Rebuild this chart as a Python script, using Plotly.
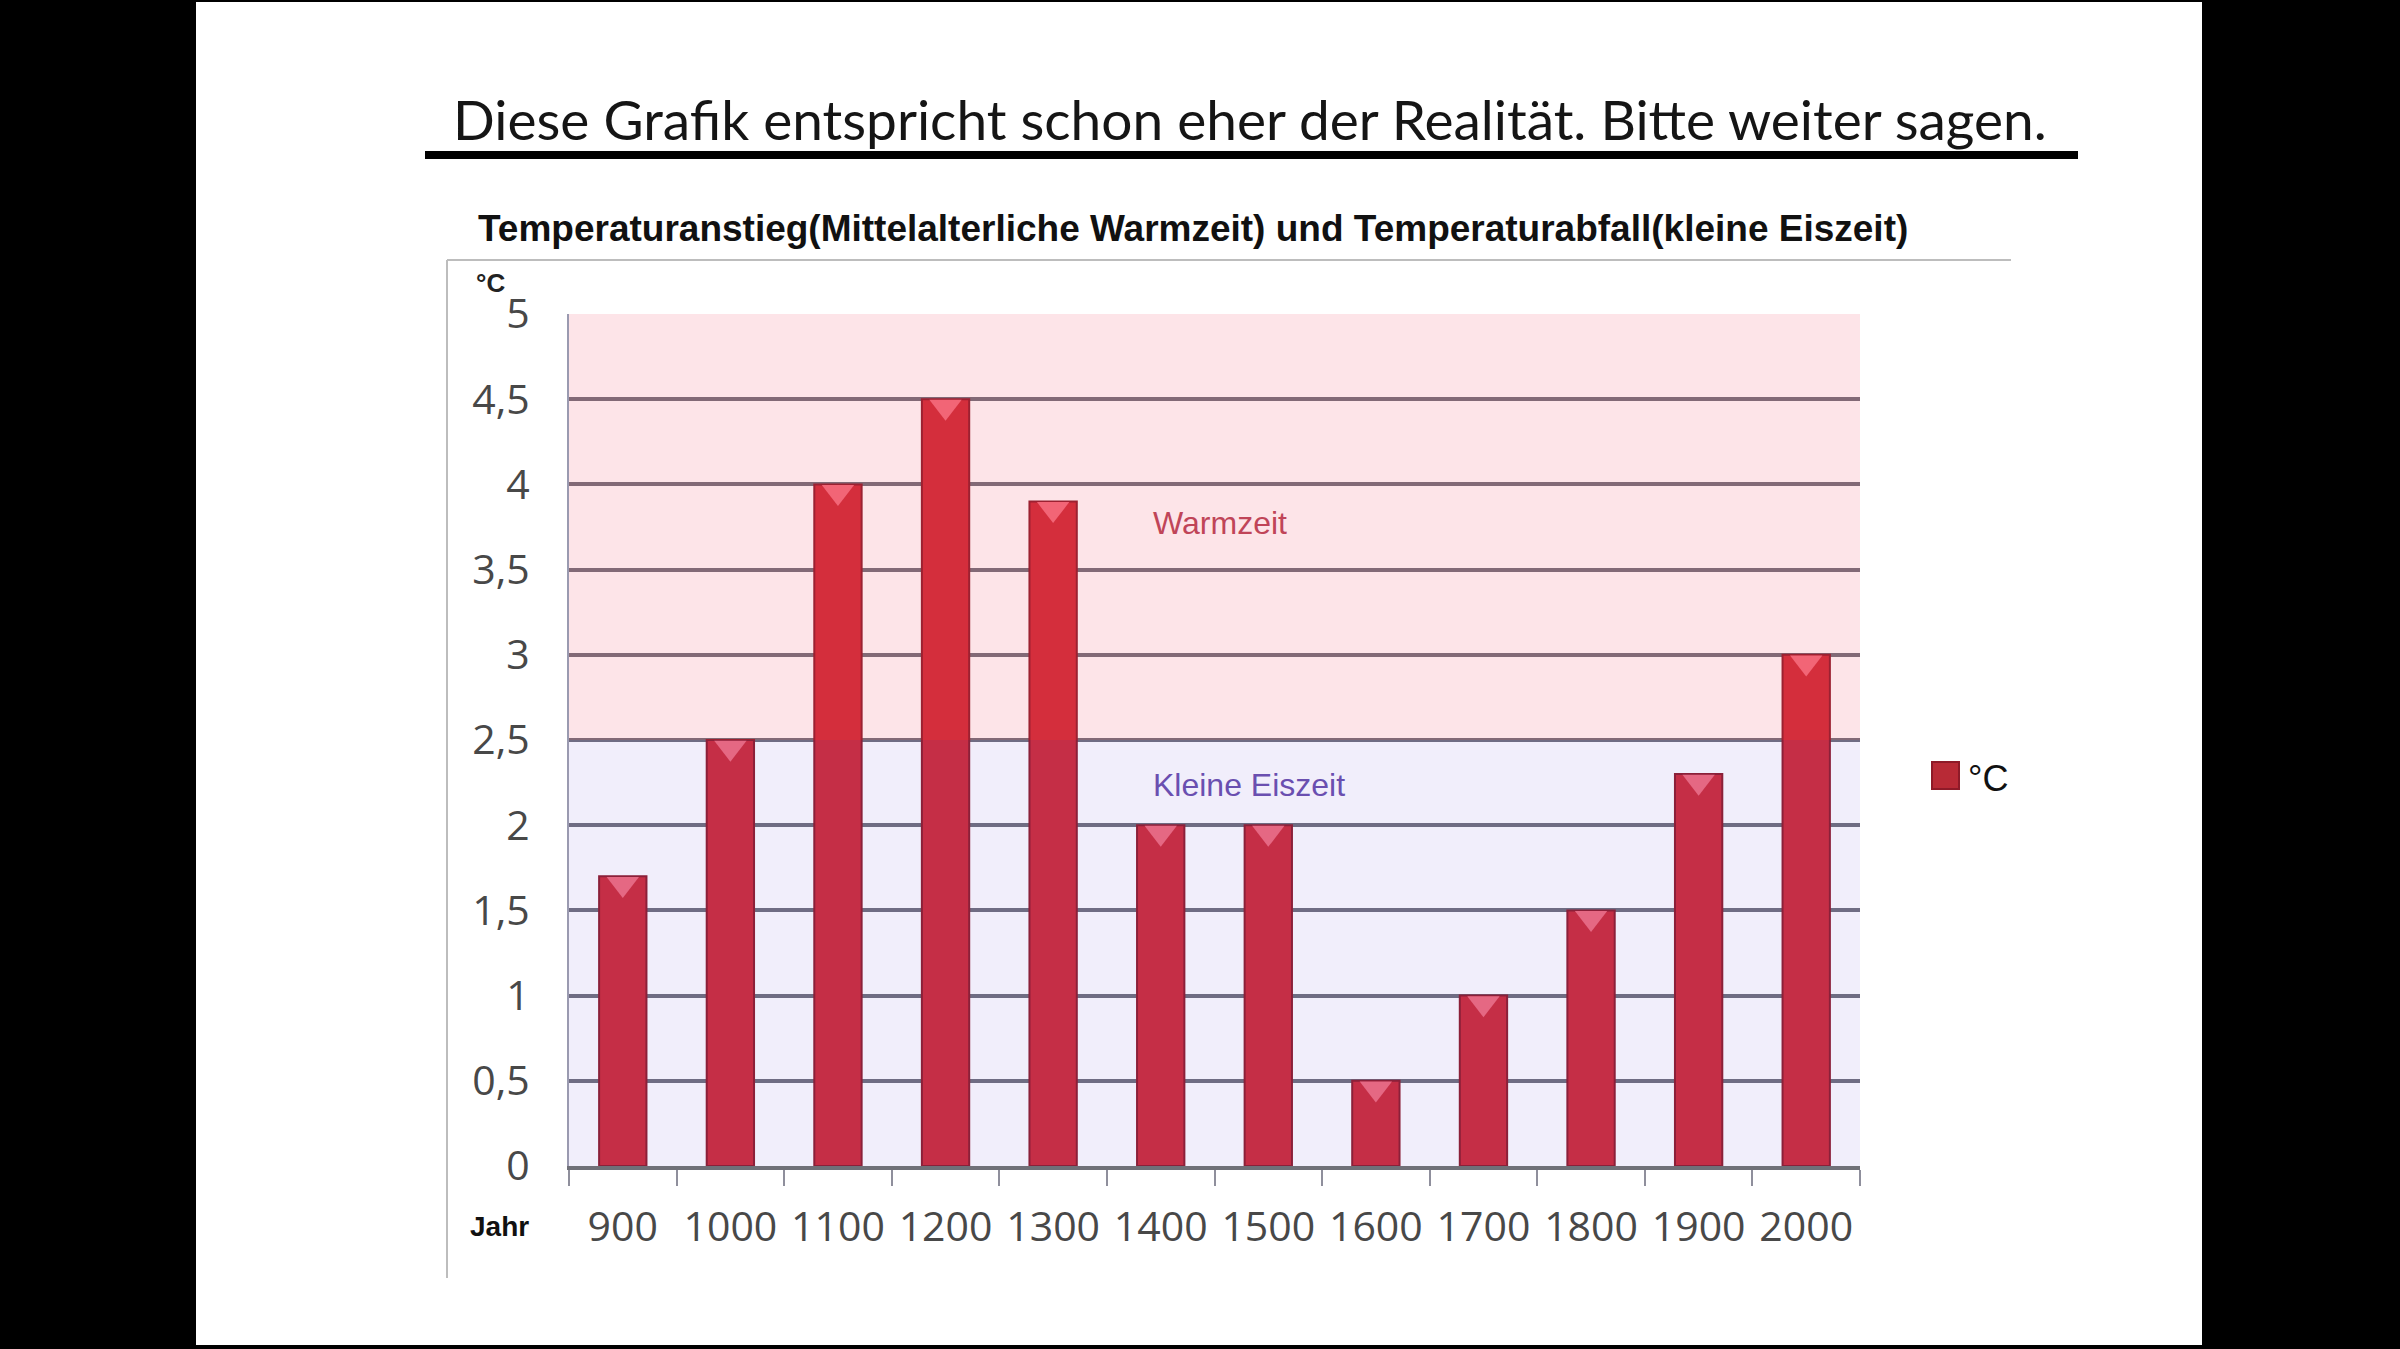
import plotly.graph_objects as go

# data
jahre = ["900", "1000", "1100", "1200", "1300", "1400",
         "1500", "1600", "1700", "1800", "1900", "2000"]
temperatur = [1.7, 2.5, 4.0, 4.5, 3.9, 2.0, 2.0, 0.5, 1.0, 1.5, 2.3, 3.0]
grenze = 2.5      # Warmzeit above, kleine Eiszeit below
y_max = 5

W, H = 2400, 1349
# plot area in pixels
L, R, T, B = 569, 1860, 314, 1166


def px(x):
    return (x - L) / (R - L)


def py(y):
    return (B - y) / (B - T)


fig = go.Figure()

fig.add_trace(go.Bar(
    x=jahre, y=temperatur, name="°C", width=0.44,
    marker=dict(color="#cf2a36", line=dict(color="#8e1a28", width=2)),
    hoverinfo="x+y", showlegend=False,
))
# highlight triangle at each bar top (3D look)
fig.add_trace(go.Scatter(
    x=jahre, y=[v - 0.045 for v in temperatur], mode="markers",
    marker=dict(symbol="triangle-down", size=28, color="#f26a7a",
                line=dict(width=0)),
    showlegend=False, hoverinfo="skip",
))

shapes = [
    # white slide on black
    dict(type="rect", xref="paper", yref="paper", x0=px(196), x1=px(2202),
         y0=py(1345), y1=py(2), fillcolor="white", line=dict(width=0), layer="below"),
    # underline of headline
    dict(type="line", xref="paper", yref="paper", x0=px(425), x1=px(2078),
         y0=py(155), y1=py(155), line=dict(color="black", width=8)),
    # chart frame (top and left)
    dict(type="line", xref="paper", yref="paper", x0=px(447), x1=px(2011),
         y0=py(260), y1=py(260), line=dict(color="#bdbdbd", width=2)),
    dict(type="line", xref="paper", yref="paper", x0=px(447), x1=px(447),
         y0=py(260), y1=py(1278), line=dict(color="#bdbdbd", width=2)),
    # warm / cold tint bands over the bars
    dict(type="rect", xref="paper", yref="y", x0=0, x1=1, y0=grenze, y1=y_max,
         fillcolor="rgba(242,75,102,0.15)", line=dict(width=0), layer="above"),
    dict(type="rect", xref="paper", yref="y", x0=0, x1=1, y0=0, y1=grenze,
         fillcolor="rgba(115,85,215,0.10)", line=dict(width=0), layer="above"),
    # legend swatch
    dict(type="rect", xref="paper", yref="paper", x0=px(1932), x1=px(1959),
         y0=py(789), y1=py(762), fillcolor="#b82a36",
         line=dict(color="#8e1a28", width=2)),
]

annotations = [
    dict(text="Diese Grafik entspricht schon eher der Realität. Bitte weiter sagen.",
         x=px(1250), y=py(119), font=dict(family="Lato", size=55, color="#151515")),
    dict(text="Temperaturanstieg(Mittelalterliche Warmzeit) und Temperaturabfall(kleine Eiszeit)",
         x=px(1193), y=py(228),
         font=dict(family="Liberation Sans", size=37, color="#111111", weight="bold")),
    dict(text="°C", x=px(490), y=py(283),
         font=dict(family="Liberation Sans", size=26, color="#222222", weight="bold")),
    dict(text="Jahr", x=px(499), y=py(1226),
         font=dict(family="Liberation Sans", size=28, color="#111111", weight="bold")),
    dict(text="Warmzeit", x=px(1151), y=py(523), xanchor="left",
         font=dict(family="Liberation Sans", size=32, color="#c04458")),
    dict(text="Kleine Eiszeit", x=px(1151), y=py(785), xanchor="left",
         font=dict(family="Liberation Sans", size=32, color="#6a4fb0")),
    # legend label
    dict(text="°C", x=px(1966), y=py(778), xanchor="left",
         font=dict(family="Liberation Sans", size=36, color="#111111")),
]
for a in annotations:
    a.update(xref="paper", yref="paper", showarrow=False)
    a.setdefault("xanchor", "center")
    a.setdefault("yanchor", "middle")

fig.update_layout(
    width=W, height=H, autosize=False,
    margin=dict(l=L, r=W - R, t=T, b=H - B, pad=0),
    paper_bgcolor="black", plot_bgcolor="white",
    separators=",.",
    shapes=shapes, annotations=annotations,
    showlegend=False,
)
fig.update_xaxes(
    type="category", range=[-0.5, len(jahre) - 0.5],
    showgrid=False, tickson="boundaries", ticks="outside", ticklen=16,
    tickwidth=2, tickcolor="#8f8f9c",
    showline=True, linecolor="#707078", linewidth=4,
    tickfont=dict(family="Open Sans", size=41, color="#484848"),
    ticklabelstandoff=22,
)
fig.update_yaxes(
    range=[0, y_max], dtick=0.5, tick0=0,
    showgrid=True, gridcolor="#6f6f7a", gridwidth=4, zeroline=False,
    showline=True, linecolor="#9a9ab0", linewidth=2, ticks="",
    tickfont=dict(family="Open Sans", size=41, color="#484848"),
    ticklabelstandoff=29,
)

fig.write_html("out.html", config={"displayModeBar": False},
               post_script="document.body.style.margin='0';"
                           "document.body.style.background='black';")
